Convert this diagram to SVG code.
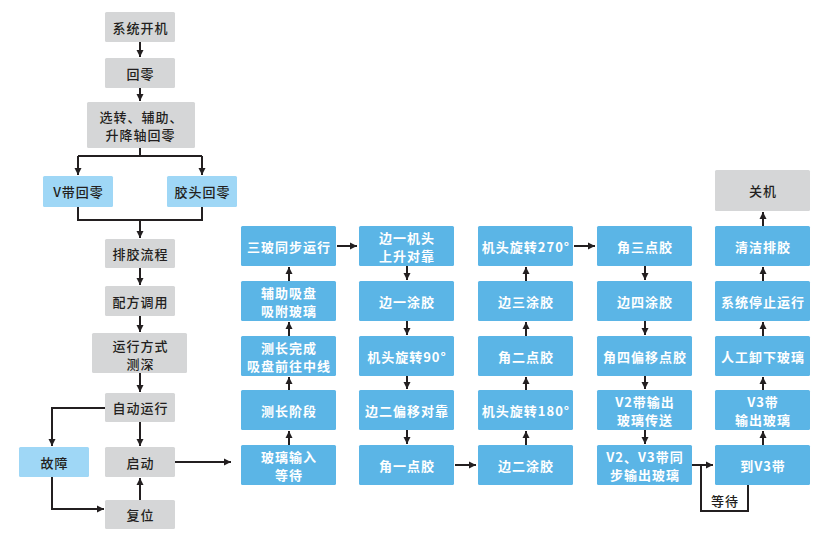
<svg xmlns="http://www.w3.org/2000/svg" width="829" height="536" viewBox="0 0 829 536">
<style>
text{font-family:"Noto Sans CJK SC","Noto Sans",sans-serif;font-size:13px;font-weight:bold;text-anchor:middle;dominant-baseline:central;letter-spacing:1px}
.g rect{fill:#d5d6d7}
.g text,.l text{fill:#231f20;font-weight:500}
.l rect{fill:#9fd7f6}
.b rect{fill:#5bb5e6}
.b text{fill:#ffffff}
.c path{fill:none;stroke:#231f20;stroke-width:2}
.lbl{fill:#231f20;font-weight:500}
</style>
<defs>
<marker id="ah" markerUnits="userSpaceOnUse" markerWidth="8" markerHeight="8" refX="7" refY="4" orient="auto">
<path d="M0,0.5 L7,4 L0,7.5 z" fill="#231f20"/>
</marker>
</defs>
<g id="n1" class="g"><rect x="105" y="12" width="70" height="30" rx="1.5"/><text x="140.5" y="27">系统开机</text></g>
<g id="n2" class="g"><rect x="105" y="58" width="70" height="30" rx="1.5"/><text x="140.5" y="73">回零</text></g>
<g id="n3" class="g"><rect x="87" y="102" width="108" height="46" rx="1.5"/><text x="141.5" y="116">选转、辅助、</text><text x="140.5" y="134">升降轴回零</text></g>
<g id="n4" class="l"><rect x="43" y="176" width="70" height="31" rx="1.5"/><text x="78.5" y="191.5">V带回零</text></g>
<g id="n5" class="l"><rect x="167" y="176" width="70" height="31" rx="1.5"/><text x="202.5" y="191.5">胶头回零</text></g>
<g id="n6" class="g"><rect x="105" y="239" width="70" height="29" rx="1.5"/><text x="140.5" y="253.5">排胶流程</text></g>
<g id="n7" class="g"><rect x="105" y="286" width="70" height="30" rx="1.5"/><text x="140.5" y="301">配方调用</text></g>
<g id="n8" class="g"><rect x="92" y="333" width="95" height="40" rx="1.5"/><text x="140.5" y="345">运行方式</text><text x="140.5" y="363">测深</text></g>
<g id="n9" class="g"><rect x="105" y="393" width="70" height="29" rx="1.5"/><text x="140.5" y="407.5">自动运行</text></g>
<g id="n10" class="g"><rect x="105" y="447" width="70" height="30" rx="1.5"/><text x="140.5" y="462">启动</text></g>
<g id="n11" class="g"><rect x="105" y="500" width="70" height="29" rx="1.5"/><text x="140.5" y="514.5">复位</text></g>
<g id="n12" class="l"><rect x="19" y="447" width="70" height="30" rx="1.5"/><text x="54.5" y="462">故障</text></g>

<g id="c1r5" class="b"><rect x="241" y="445" width="95" height="40" rx="1.5"/><text x="289" y="456">玻璃输入</text><text x="289" y="474">等待</text></g>
<g id="c1r4" class="b"><rect x="241" y="390" width="95" height="40" rx="1.5"/><text x="289" y="410">测长阶段</text></g>
<g id="c1r3" class="b"><rect x="241" y="336" width="95" height="40" rx="1.5"/><text x="289" y="347">测长完成</text><text x="289" y="365">吸盘前往中线</text></g>
<g id="c1r2" class="b"><rect x="241" y="281" width="95" height="40" rx="1.5"/><text x="289" y="292">辅助吸盘</text><text x="289" y="310">吸附玻璃</text></g>
<g id="c1r1" class="b"><rect x="241" y="226" width="95" height="40" rx="1.5"/><text x="289" y="246">三玻同步运行</text></g>

<g id="c2r1" class="b"><rect x="359" y="226" width="95" height="40" rx="1.5"/><text x="407" y="237">边一机头</text><text x="407" y="255">上升对靠</text></g>
<g id="c2r2" class="b"><rect x="359" y="281" width="95" height="40" rx="1.5"/><text x="407" y="301">边一涂胶</text></g>
<g id="c2r3" class="b"><rect x="359" y="336" width="95" height="40" rx="1.5"/><text x="407" y="356">机头旋转90°</text></g>
<g id="c2r4" class="b"><rect x="359" y="390" width="95" height="40" rx="1.5"/><text x="407" y="410">边二偏移对靠</text></g>
<g id="c2r5" class="b"><rect x="359" y="445" width="95" height="40" rx="1.5"/><text x="407" y="465">角一点胶</text></g>

<g id="c3r5" class="b"><rect x="478" y="445" width="95" height="40" rx="1.5"/><text x="526" y="465">边二涂胶</text></g>
<g id="c3r4" class="b"><rect x="478" y="390" width="95" height="40" rx="1.5"/><text x="526" y="410">机头旋转180°</text></g>
<g id="c3r3" class="b"><rect x="478" y="336" width="95" height="40" rx="1.5"/><text x="526" y="356">角二点胶</text></g>
<g id="c3r2" class="b"><rect x="478" y="281" width="95" height="40" rx="1.5"/><text x="526" y="301">边三涂胶</text></g>
<g id="c3r1" class="b"><rect x="478" y="226" width="95" height="40" rx="1.5"/><text x="526" y="246">机头旋转270°</text></g>

<g id="c4r1" class="b"><rect x="597" y="226" width="95" height="40" rx="1.5"/><text x="645" y="246">角三点胶</text></g>
<g id="c4r2" class="b"><rect x="597" y="281" width="95" height="40" rx="1.5"/><text x="645" y="301">边四涂胶</text></g>
<g id="c4r3" class="b"><rect x="597" y="336" width="95" height="40" rx="1.5"/><text x="645" y="356">角四偏移点胶</text></g>
<g id="c4r4" class="b"><rect x="597" y="390" width="95" height="40" rx="1.5"/><text x="645" y="401">V2带输出</text><text x="645" y="419">玻璃传送</text></g>
<g id="c4r5" class="b"><rect x="597" y="445" width="95" height="40" rx="1.5"/><text x="645" y="456">V2、V3带同</text><text x="645" y="474">步输出玻璃</text></g>

<g id="c5r5" class="b"><rect x="715" y="445" width="95" height="40" rx="1.5"/><text x="763" y="465">到V3带</text></g>
<g id="c5r4" class="b"><rect x="715" y="390" width="95" height="40" rx="1.5"/><text x="763" y="401">V3带</text><text x="763" y="419">输出玻璃</text></g>
<g id="c5r3" class="b"><rect x="715" y="336" width="95" height="40" rx="1.5"/><text x="763" y="356">人工卸下玻璃</text></g>
<g id="c5r2" class="b"><rect x="715" y="281" width="95" height="40" rx="1.5"/><text x="763" y="301">系统停止运行</text></g>
<g id="c5r1" class="b"><rect x="715" y="226" width="95" height="40" rx="1.5"/><text x="763" y="246">清洁排胶</text></g>
<g id="c5r0" class="g"><rect x="715" y="170" width="95" height="41" rx="1.5"/><text x="763" y="190.5">关机</text></g>

<g id="connectors" class="c">
<path d="M140,42 V57" marker-end="url(#ah)"/>
<path d="M140,88 V101" marker-end="url(#ah)"/>
<path d="M140,148 V156 M78,156 H202"/>
<path d="M78,156 V175" marker-end="url(#ah)"/>
<path d="M202,156 V175" marker-end="url(#ah)"/>
<path d="M78,207 V220 H202 V207"/>
<path d="M140,220 V238" marker-end="url(#ah)"/>
<path d="M140,268 V285" marker-end="url(#ah)"/>
<path d="M140,316 V332" marker-end="url(#ah)"/>
<path d="M140,373 V392" marker-end="url(#ah)"/>
<path d="M140,422 V446" marker-end="url(#ah)"/>
<path d="M105,408 H52 V446" marker-end="url(#ah)"/>
<path d="M52,477 V509 H104" marker-end="url(#ah)"/>
<path d="M140,500 V478" marker-end="url(#ah)"/>
<path d="M175,462 H231" marker-end="url(#ah)"/>
<path d="M289,445 V431" marker-end="url(#ah)"/>
<path d="M289,390 V377" marker-end="url(#ah)"/>
<path d="M289,336 V322" marker-end="url(#ah)"/>
<path d="M289,281 V267" marker-end="url(#ah)"/>
<path d="M337,246 H357" marker-end="url(#ah)"/>
<path d="M407,266 V280" marker-end="url(#ah)"/>
<path d="M407,321 V335" marker-end="url(#ah)"/>
<path d="M407,376 V389" marker-end="url(#ah)"/>
<path d="M407,430 V444" marker-end="url(#ah)"/>
<path d="M455,465 H476" marker-end="url(#ah)"/>
<path d="M526,445 V431" marker-end="url(#ah)"/>
<path d="M526,390 V377" marker-end="url(#ah)"/>
<path d="M526,336 V322" marker-end="url(#ah)"/>
<path d="M526,281 V267" marker-end="url(#ah)"/>
<path d="M574,246 H595" marker-end="url(#ah)"/>
<path d="M645,266 V280" marker-end="url(#ah)"/>
<path d="M645,321 V335" marker-end="url(#ah)"/>
<path d="M645,376 V389" marker-end="url(#ah)"/>
<path d="M645,430 V444" marker-end="url(#ah)"/>
<path d="M692,465 H713" marker-end="url(#ah)"/>
<path d="M748,485 V511 H701 V465"/>
<path d="M763,445 V431" marker-end="url(#ah)"/>
<path d="M763,390 V377" marker-end="url(#ah)"/>
<path d="M763,336 V322" marker-end="url(#ah)"/>
<path d="M763,281 V267" marker-end="url(#ah)"/>
<path d="M763,226 V212" marker-end="url(#ah)"/>
</g>
<text class="lbl" x="725" y="500">等待</text>
</svg>
